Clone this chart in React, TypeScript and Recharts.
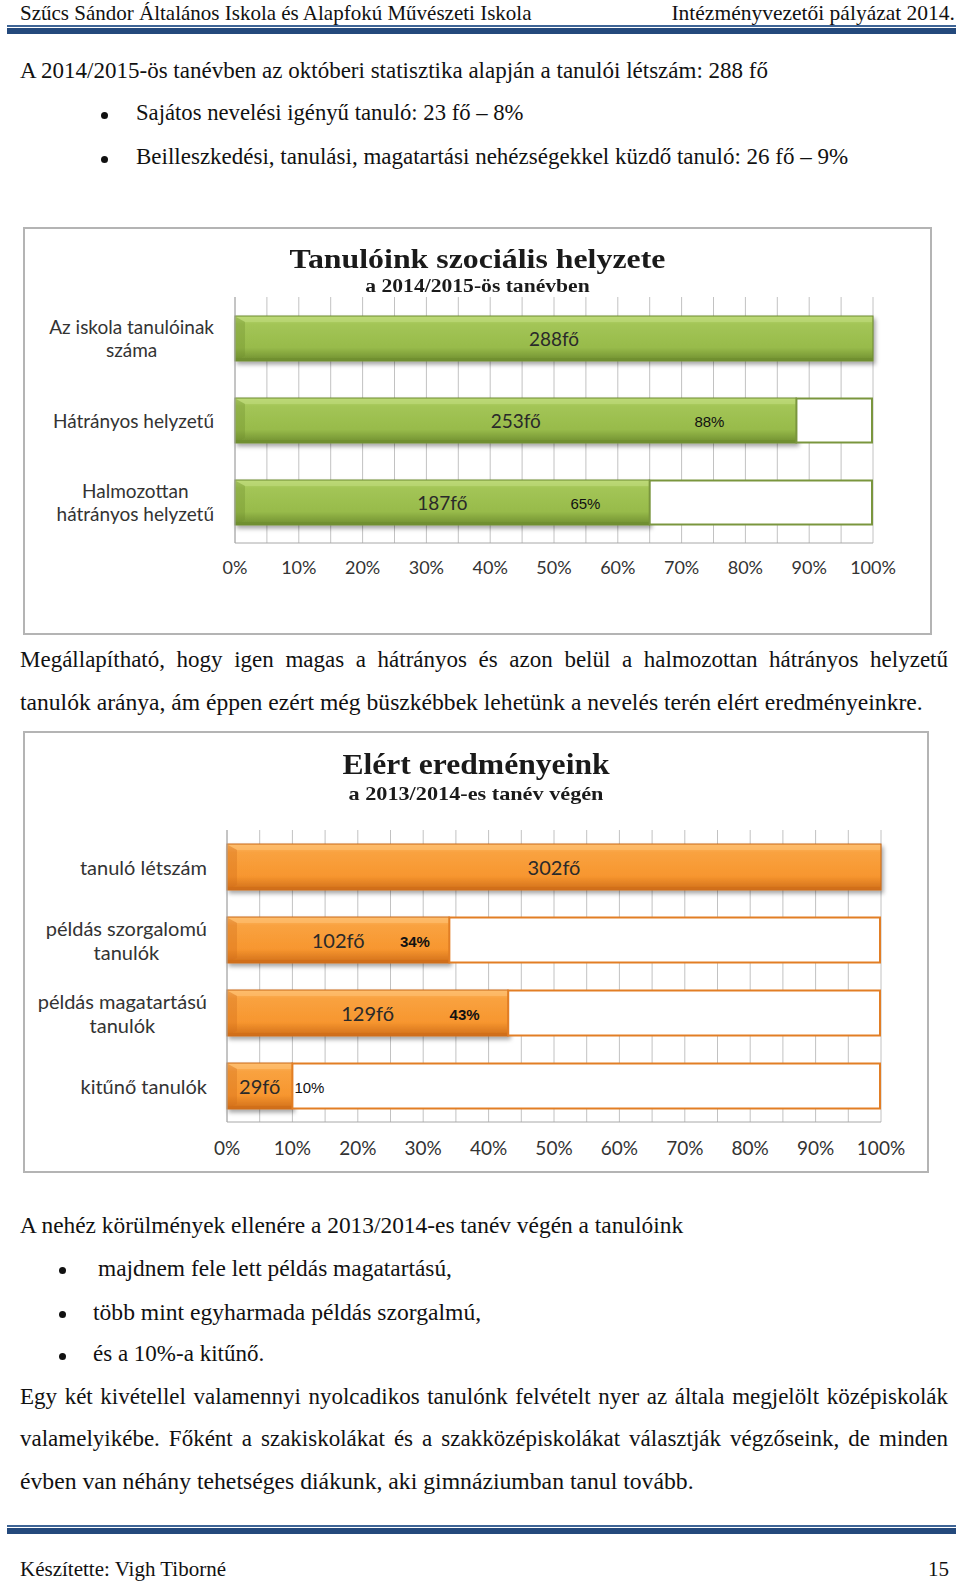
import React from 'react';
import { BarChart, Bar, XAxis, YAxis, CartesianGrid, LabelList } from 'recharts';

// ---------- data ----------
const socialCategories = ['Az iskola tanulóinak száma', 'Hátrányos helyzetű', 'Halmozottan hátrányos helyzetű'];
const socialLabelLines = [['Az iskola tanulóinak', 'száma'], ['Hátrányos helyzetű'], ['Halmozottan', 'hátrányos helyzetű']];
const socialCounts = [288, 253, 187];
const socialShares = [1, 0.88, 0.65];

const resultCategories = ['tanuló létszám', 'példás szorgalomú tanulók', 'példás magatartású tanulók', 'kitűnő tanulók'];
const resultLabelLines = [['tanuló létszám'], ['példás szorgalomú', 'tanulók'], ['példás magatartású', 'tanulók'], ['kitűnő tanulók']];
const resultCounts = [302, 102, 129, 29];
const resultShares = [1, 0.34, 0.43, 0.1];

const percentTicks = [0, 0.05, 0.1, 0.15, 0.2, 0.25, 0.3, 0.35, 0.4, 0.45, 0.5, 0.55, 0.6, 0.65, 0.7, 0.75, 0.8, 0.85, 0.9, 0.95, 1];

const SANS = 'Lato, "Open Sans", sans-serif';
const SERIF = '"Liberation Serif", "DejaVu Serif", serif';

let measureCtx: CanvasRenderingContext2D | null = null;
function textWidth(s: string, font: string) {
  if (!measureCtx && typeof document !== 'undefined') {
    measureCtx = document.createElement('canvas').getContext('2d');
  }
  if (!measureCtx) return s.length * 8;
  measureCtx.font = font;
  return measureCtx.measureText(s).width;
}

function buildRows(cats: string[], lines: string[][], counts: number[], shares: number[]) {
  return cats.map((name, i) => ({ name, lines: lines[i], count: counts[i], share: shares[i], rest: 1 - shares[i] }));
}

const socialRows = buildRows(socialCategories, socialLabelLines, socialCounts, socialShares);
const resultRows = buildRows(resultCategories, resultLabelLines, resultCounts, resultShares);

type Theme = {
  id: string;
  light: string;
  mid: string;
  main: string;
  dark: string;
  border: string;
  rest: string;
};

const green: Theme = { id: 'g', light: '#bcd977', mid: '#a3c556', main: '#98bb4b', dark: '#6f8e2f', border: '#6f8b31', rest: '#7a963e' };
const orange: Theme = { id: 'o', light: '#fdbc6c', mid: '#f9a240', main: '#f7962f', dark: '#d06e1a', border: '#c96a1a', rest: '#e27e25' };

function makeValueShape(t: Theme) {
  return (props: any) => {
    const { x, y, width, height } = props;
    if (!width || width <= 0.5) return null;
    const gid = `grad-${t.id}`;
    const fid = `shadow-${t.id}`;
    const bev = Math.min(10, width / 3);
    return (
      <g>
        <defs>
          <linearGradient id={gid} x1="0" y1="0" x2="0" y2="1">
            <stop offset="0" stopColor={t.light} />
            <stop offset="0.18" stopColor={t.mid} />
            <stop offset="0.7" stopColor={t.main} />
            <stop offset="1" stopColor={t.dark} />
          </linearGradient>
          <filter id={fid} x="-5%" y="-20%" width="115%" height="160%">
            <feDropShadow dx="2" dy="3" stdDeviation="2" floodColor="#000" floodOpacity="0.35" />
          </filter>
        </defs>
        <rect x={x} y={y} width={width} height={height} fill={`url(#${gid})`} stroke={t.border} strokeWidth={1} filter={`url(#${fid})`} />
        <polygon points={`${x + 1},${y + 1} ${x + width - 1},${y + 1} ${x + width - 1},${y + 6} ${x + bev},${y + 6}`} fill={t.light} opacity={0.7} />
        <polygon points={`${x + 1},${y + 1} ${x + bev},${y + 6} ${x + bev},${y + height - 5} ${x + 1},${y + height - 1}`} fill={t.dark} opacity={0.35} />
        <rect x={x} y={y + height - 3} width={width} height={3} fill={t.dark} opacity={0.8} />
      </g>
    );
  };
}

function makeRestShape(t: Theme) {
  return (props: any) => {
    const { x, y, width, height } = props;
    if (!width || width <= 0.5) return null;
    return <rect x={x} y={y + 0.5} width={width - 1} height={height - 1} fill="#ffffff" stroke={t.rest} strokeWidth={2} />;
  };
}

function makeCategoryTick(rows: { name: string; lines: string[] }[], lineGap: number, fontSize: number) {
  return (props: any) => {
    const { x, y, payload } = props;
    const row = rows.find((r) => r.name === payload.value);
    const lines = row ? row.lines : [String(payload.value)];
    const font = `${fontSize}px ${SANS}`;
    const maxW = Math.max(...lines.map((l) => textWidth(l, font)));
    const cx = x - maxW / 2;
    const startY = y - ((lines.length - 1) * lineGap) / 2;
    return (
      <g>
        {lines.map((l, i) => (
          <text key={i} x={cx} y={startY + i * lineGap} textAnchor="middle" dominantBaseline="central" fontFamily={SANS} fontSize={fontSize} fill="#333333">
            {l}
          </text>
        ))}
      </g>
    );
  };
}

function makeCountLabel(fontSize: number) {
  return (props: any) => {
    const { x, y, width, height, value } = props;
    return (
      <text x={x + width / 2} y={y + height / 2} textAnchor="middle" dominantBaseline="central" fontFamily={SANS} fontSize={fontSize} fill="#2a2a2a">
        {`${value}fő`}
      </text>
    );
  };
}

function makePctLabel(boldInside: boolean) {
  return (props: any) => {
    const { x, y, width, height, value } = props;
    if (value >= 1) return null;
    const txt = `${Math.round(value * 100)}%`;
    const outside = width < 80;
    return (
      <text
        x={outside ? x + width + 2 : x + width * 0.845}
        y={y + height / 2 + 1}
        textAnchor={outside ? 'start' : 'middle'}
        dominantBaseline="central"
        fontFamily='"Liberation Sans", Arial, sans-serif'
        fontSize={15}
        fontWeight={boldInside && !outside ? 600 : 400}
        fill="#111"
      >
        {txt}
      </text>
    );
  };
}

const pctFormatter = (v: number) => {
  const p = Math.round(v * 100);
  return p % 10 === 0 ? `${p}%` : '';
};

type ChartProps = {
  rows: any[];
  width: number;
  height: number;
  margin: { top: number; right: number; bottom: number; left: number };
  yWidth: number;
  barSize: number;
  theme: Theme;
  xTickMargin: number;
  yTickMargin: number;
  boldPct: boolean;
  catFont: number;
  catGap: number;
  tickFont: number;
  countFont: number;
};

function HBarChart(p: ChartProps) {
  return (
    <BarChart width={p.width} height={p.height} data={p.rows} layout="vertical" margin={p.margin} barSize={p.barSize}>
      <CartesianGrid horizontal={false} stroke="#c2c2c2" strokeWidth={1} />
      <XAxis
        type="number"
        domain={[0, 1]}
        ticks={percentTicks}
        interval={0}
        tickFormatter={pctFormatter}
        axisLine={{ stroke: '#a8a8a8' }}
        tickLine={false}
        tickSize={0}
        tickMargin={p.xTickMargin}
        height={30}
        tick={{ fontFamily: SANS, fontSize: p.tickFont, fill: '#333333' }}
      />
      <YAxis
        type="category"
        dataKey="name"
        width={p.yWidth}
        axisLine={{ stroke: '#a8a8a8' }}
        tickLine={false}
        tickSize={0}
        tickMargin={p.yTickMargin}
        interval={0}
        tick={makeCategoryTick(p.rows, p.catGap, p.catFont)}
      />
      <Bar dataKey="share" stackId="a" isAnimationActive={false} shape={makeValueShape(p.theme)}>
        <LabelList dataKey="count" content={makeCountLabel(p.countFont)} />
        <LabelList dataKey="share" content={makePctLabel(p.boldPct)} />
      </Bar>
      <Bar dataKey="rest" stackId="a" isAnimationActive={false} shape={makeRestShape(p.theme)} />
    </BarChart>
  );
}

const abs = (left: number, top: number, extra: React.CSSProperties = {}): React.CSSProperties => ({
  position: 'absolute',
  left,
  top,
  whiteSpace: 'nowrap',
  ...extra,
});

function Line({ left, y, children, width, size = 23 }: { left: number; y: number; children: React.ReactNode; width?: number; size?: number }) {
  const lh = 28;
  return (
    <div
      style={abs(left, y - lh / 2 - 1, {
        fontSize: size,
        lineHeight: `${lh}px`,
        width: width,
        textAlign: width ? 'justify' : 'left',
        textAlignLast: width ? 'justify' : 'auto',
        whiteSpace: width ? 'normal' : 'nowrap',
      } as React.CSSProperties)}
    >
      {children}
    </div>
  );
}

function Bullet({ x, y }: { x: number; y: number }) {
  return <div style={{ position: 'absolute', left: x - 3.5, top: y - 3.5, width: 7, height: 7, borderRadius: '50%', background: '#111' }} />;
}

function Title({ top, width, size, scale, lh, children }: { top: number; width: number; size: number; scale: number; lh: number; children: React.ReactNode }) {
  return (
    <div
      style={abs(0, top, {
        width,
        textAlign: 'center',
        fontSize: size,
        fontWeight: 700,
        lineHeight: `${lh}px`,
        color: '#1a1a1a',
        transform: `scaleX(${scale})`,
        transformOrigin: '50% 50%',
      })}
    >
      {children}
    </div>
  );
}

export default function App() {
  return (
    <div style={{ position: 'absolute', left: 0, top: 0, width: 960, height: 1584, background: '#fff', overflow: 'hidden', fontFamily: SERIF, color: '#111' }}>
      {/* header */}
      <div style={abs(20, 1, { fontSize: 21, lineHeight: '24px' })}>Szűcs Sándor Általános Iskola és Alapfokú Művészeti Iskola</div>
      <div style={abs(0, 1, { fontSize: 21.5, lineHeight: '24px', width: 955, textAlign: 'right' })}>Intézményvezetői pályázat 2014.</div>
      <div style={abs(7, 25, { width: 949, height: 2, background: '#3f6596' })} />
      <div style={abs(7, 28, { width: 949, height: 6, background: '#24497c' })} />

      <Line left={20} y={72}>A 2014/2015-ös tanévben az októberi statisztika alapján a tanulói létszám: 288 fő</Line>
      <Bullet x={104} y={115} />
      <Line left={136} y={114} size={22.7}>Sajátos nevelési igényű tanuló: 23 fő – 8%</Line>
      <Bullet x={104} y={159} />
      <Line left={136} y={158}>Beilleszkedési, tanulási, magatartási nehézségekkel küzdő tanuló: 26 fő – 9%</Line>

      {/* chart 1 */}
      <div style={{ position: 'absolute', left: 23, top: 227, width: 909, height: 408 }}>
        <HBarChart
          rows={socialRows}
          width={909}
          height={408}
          margin={{ top: 70, right: 59, bottom: 62, left: 0 }}
          yWidth={212}
          barSize={45}
          theme={green}
          xTickMargin={18}
          yTickMargin={21}
          boldPct={false}
          catFont={19}
          catGap={23.5}
          tickFont={18}
          countFont={19}
        />
        <div style={{ position: 'absolute', left: 0, top: 0, width: 905, height: 404, border: '2px solid #b4b4b4', pointerEvents: 'none' }} />
        <Title top={17} width={909} size={27} scale={1.18} lh={30}>Tanulóink szociális helyzete</Title>
        <Title top={48} width={909} size={18} scale={1.2} lh={22}>a 2014/2015-ös tanévben</Title>
      </div>

      <Line left={20} y={661} width={928}>Megállapítható, hogy igen magas a hátrányos és azon belül a halmozottan hátrányos helyzetű</Line>
      <Line left={20} y={703} size={23.6}>tanulók aránya, ám éppen ezért még büszkébbek lehetünk a nevelés terén elért eredményeinkre.</Line>

      {/* chart 2 */}
      <div style={{ position: 'absolute', left: 23, top: 731, width: 906, height: 442 }}>
        <HBarChart
          rows={resultRows}
          width={906}
          height={442}
          margin={{ top: 99, right: 48, bottom: 21, left: 0 }}
          yWidth={204}
          barSize={46}
          theme={orange}
          xTickMargin={20}
          yTickMargin={20}
          boldPct={true}
          catFont={20}
          catGap={24}
          tickFont={19}
          countFont={20}
        />
        <div style={{ position: 'absolute', left: 0, top: 0, width: 902, height: 438, border: '2px solid #b4b4b4', pointerEvents: 'none' }} />
        <Title top={17} width={906} size={29} scale={1.09} lh={32}>Elért eredményeink</Title>
        <Title top={52} width={906} size={19} scale={1.17} lh={22}>a 2013/2014-es tanév végén</Title>
      </div>

      <Line left={20} y={1226} size={23.4}>A nehéz körülmények ellenére a 2013/2014-es tanév végén a tanulóink</Line>
      <Bullet x={62} y={1270} />
      <Line left={98} y={1269} size={23.4}>majdnem fele lett példás magatartású,</Line>
      <Bullet x={62} y={1314} />
      <Line left={93} y={1313} size={23.6}>több mint egyharmada példás szorgalmú,</Line>
      <Bullet x={62} y={1356} />
      <Line left={93} y={1355}>és a 10%-a kitűnő.</Line>
      <Line left={20} y={1398} width={928}>Egy két kivétellel valamennyi nyolcadikos tanulónk felvételt nyer az általa megjelölt középiskolák</Line>
      <Line left={20} y={1440} width={928}>valamelyikébe. Főként a szakiskolákat és a szakközépiskolákat választják végzőseink, de minden</Line>
      <Line left={20} y={1482} size={23.7}>évben van néhány tehetséges diákunk, aki gimnáziumban tanul tovább.</Line>

      {/* footer */}
      <div style={abs(7, 1525, { width: 949, height: 2, background: '#3f6596' })} />
      <div style={abs(7, 1528, { width: 949, height: 6, background: '#24497c' })} />
      <div style={abs(20, 1557, { fontSize: 21, lineHeight: '24px' })}>Készítette: Vigh Tiborné</div>
      <div style={abs(0, 1557, { fontSize: 21, lineHeight: '24px', width: 949, textAlign: 'right' })}>15</div>
    </div>
  );
}
